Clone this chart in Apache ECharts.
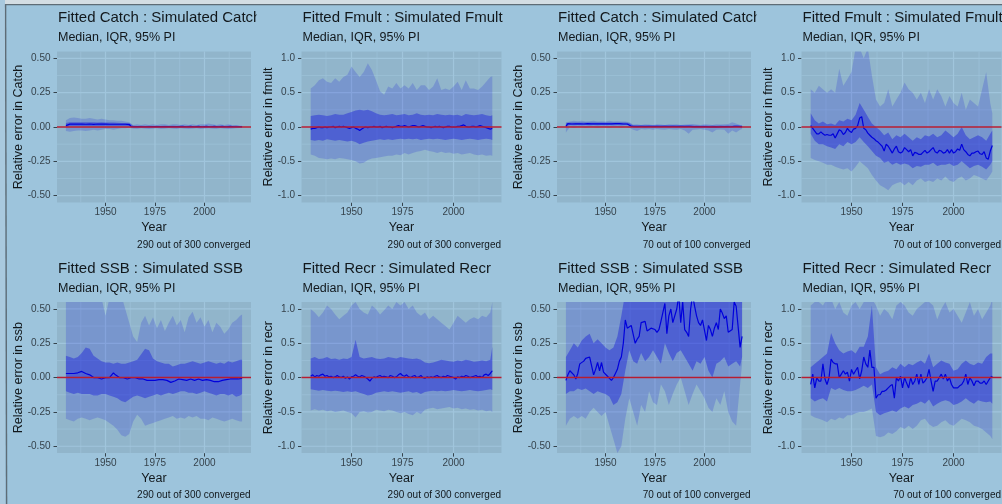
<!DOCTYPE html>
<html><head><meta charset="utf-8">
<script src="https://cdn.jsdelivr.net/npm/echarts@6/dist/echarts.min.js"></script>
<style>html,body{margin:0;padding:0;background:#9dc4dc;}#c{width:1002px;height:504px;}</style>
</head><body><div id="c"></div><script>
// ---------- data ----------
const yearsAnnual = [1930,1931,1932,1933,1934,1935,1936,1937,1938,1939,
1940,1941,1942,1943,1944,1945,1946,1947,1948,1949,
1950,1951,1952,1953,1954,1955,1956,1957,1958,1959,
1960,1961,1962,1963,1964,1965,1966,1967,1968,1969,
1970,1971,1972,1973,1974,1975,1976,1977,1978,1979,
1980,1981,1982,1983,1984,1985,1986,1987,1988,1989,
1990,1991,1992,1993,1994,1995,1996,1997,1998,1999,
2000,2001,2002,2003,2004,2005,2006,2007,2008,2009,
2010,2011,2012,2013,2014,2015,2016,2017,2018,2019];
const yearsBand = [1930,1932,1934,1936,1938,1940,1942,1944,1946,1948,1950,1952,1954,1956,1958,1960,1962,
1964,1966,1968,1970,1972,1974,1976,1978,1980,1982,1984,1986,1988,1990,1992,1994,1996,1998,2000,2002,2004,2006,2008,2010,2012,2014,2016,2018,2019];

const xTicks = [1950, 1975, 2000];
const xMinor = [1937.5, 1962.5, 1987.5, 2012.5];
const yTicksHalf = [-0.5, -0.25, 0, 0.25, 0.5];
const yMinorHalf = [-0.375, -0.125, 0.125, 0.375];
const yTicksOne = [-1, -0.5, 0, 0.5, 1];
const yMinorOne = [-0.75, -0.25, 0.25, 0.75];
const zeroLine = [0];

// Catch, 290 of 300
const catch290Med = [0.010,0.022,0.021,0.020,0.022,0.023,0.021,0.020,0.022,0.021,
0.020,0.021,0.022,0.020,0.019,0.021,0.022,0.020,0.021,0.020,
0.022,0.021,0.020,0.019,0.020,0.021,0.020,0.019,0.020,0.021,
0.020,0.020,0.018,0.003,0.002,0.003,0.002,0.003,0.004,0.002,
0.003,0.002,0.004,0.003,0.002,0.003,0.004,0.003,0.002,0.003,
0.004,0.003,0.002,0.003,0.004,0.003,0.002,0.003,0.003,0.004,
0.003,0.002,0.003,0.004,0.003,0.002,0.003,0.004,0.003,0.002,
0.003,0.004,0.003,0.002,0.003,0.004,0.003,0.002,0.003,0.004,
0.003,0.002,0.003,0.004,0.003,0.002,0.003,0.002,0.002,0.002];
const catch290Hi95 = [0.050,0.065,0.070,0.065,0.060,0.060,0.065,0.060,0.055,0.060,0.055,0.050,0.050,0.045,0.045,0.040,0.035,
0.015,0.020,0.015,0.020,0.015,0.020,0.015,0.020,0.020,0.015,0.020,0.020,0.015,0.020,0.015,0.020,0.015,0.020,0.020,0.025,0.020,0.015,0.020,0.015,0.020,0.015,0.015,0.010,0.010];
const catch290Hi50 = [0.030,0.035,0.035,0.035,0.035,0.034,0.035,0.034,0.033,0.034,0.033,0.032,0.032,0.031,0.030,0.030,0.030,
0.009,0.008,0.009,0.008,0.009,0.008,0.009,0.008,0.009,0.008,0.009,0.008,0.009,0.008,0.009,0.008,0.009,0.008,0.009,0.008,0.009,0.008,0.009,0.008,0.009,0.008,0.009,0.008,0.008];
const catch290Lo50 = [0.000,0.008,0.008,0.008,0.007,0.008,0.008,0.007,0.008,0.008,0.007,0.008,0.008,0.007,0.008,0.008,0.007,
-0.004,-0.003,-0.004,-0.003,-0.004,-0.003,-0.004,-0.003,-0.004,-0.003,-0.004,-0.003,-0.004,-0.003,-0.004,-0.003,-0.004,-0.003,-0.004,-0.003,-0.004,-0.003,-0.004,-0.003,-0.004,-0.003,-0.004,-0.003,-0.003];
const catch290Lo95 = [-0.030,-0.035,-0.030,-0.025,-0.025,-0.030,-0.025,-0.020,-0.025,-0.020,-0.015,-0.015,-0.020,-0.015,-0.010,-0.010,-0.005,
-0.012,-0.015,-0.010,-0.012,-0.015,-0.012,-0.010,-0.015,-0.012,-0.010,-0.012,-0.015,-0.010,-0.012,-0.015,-0.012,-0.010,-0.015,-0.012,-0.010,-0.012,-0.015,-0.010,-0.012,-0.015,-0.012,-0.010,-0.008,-0.008];

// Fmult, 290 of 300
const fmult290Med = [-0.03,-0.02,-0.02,-0.01,0.00,-0.01,-0.01,0.00,-0.01,0.00,
0.00,0.01,-0.01,0.00,0.01,0.00,0.01,0.00,-0.01,-0.02,
-0.01,0.00,-0.02,-0.03,-0.05,-0.03,-0.01,0.00,-0.01,0.00,
0.00,0.01,0.00,0.00,0.01,-0.01,0.00,0.01,0.00,0.00,
-0.01,0.00,0.01,0.02,0.01,0.01,0.02,0.01,0.00,0.01,
0.02,0.02,0.01,0.00,0.01,0.02,0.01,0.00,0.00,-0.01,
0.00,0.01,0.00,0.01,0.00,-0.01,0.00,0.01,0.01,0.00,
0.00,0.00,0.01,0.01,0.02,0.03,0.01,0.00,0.00,0.01,
0.01,0.00,0.01,0.02,0.01,0.00,-0.01,-0.02,-0.03,-0.02];
const fmult290Hi95 = [0.56,0.61,0.68,0.71,0.66,0.64,0.71,0.66,0.73,0.76,0.88,0.80,0.73,0.80,0.93,0.83,0.68,
0.52,0.47,0.59,0.56,0.64,0.56,0.61,0.56,0.64,0.54,0.61,0.61,0.54,0.59,0.71,0.54,0.56,0.54,0.59,0.66,0.54,0.68,0.56,0.56,0.54,0.59,0.66,0.73,0.74];
const fmult290Hi50 = [0.16,0.17,0.18,0.17,0.16,0.17,0.19,0.18,0.18,0.20,0.22,0.24,0.25,0.24,0.25,0.23,0.20,
0.18,0.17,0.18,0.19,0.17,0.18,0.19,0.17,0.18,0.20,0.18,0.17,0.18,0.17,0.19,0.18,0.17,0.18,0.17,0.18,0.16,0.19,0.18,0.17,0.18,0.19,0.17,0.16,0.17];
const fmult290Lo50 = [-0.19,-0.20,-0.19,-0.20,-0.18,-0.19,-0.20,-0.19,-0.20,-0.21,-0.20,-0.22,-0.25,-0.23,-0.21,-0.20,-0.19,
-0.18,-0.19,-0.18,-0.19,-0.18,-0.17,-0.18,-0.17,-0.18,-0.17,-0.19,-0.18,-0.17,-0.18,-0.17,-0.18,-0.19,-0.18,-0.17,-0.18,-0.19,-0.18,-0.17,-0.18,-0.19,-0.18,-0.17,-0.18,-0.19];
const fmult290Lo95 = [-0.40,-0.42,-0.45,-0.46,-0.47,-0.46,-0.47,-0.45,-0.46,-0.47,-0.48,-0.50,-0.53,-0.52,-0.48,-0.46,-0.45,
-0.44,-0.43,-0.42,-0.42,-0.40,-0.41,-0.38,-0.40,-0.38,-0.36,-0.35,-0.33,-0.35,-0.36,-0.38,-0.36,-0.38,-0.37,-0.39,-0.38,-0.40,-0.39,-0.38,-0.40,-0.41,-0.40,-0.42,-0.41,-0.42];

// Catch, 70 of 100
const catch70Med = [0.005,0.024,0.023,0.022,0.024,0.023,0.022,0.023,0.024,0.022,
0.023,0.024,0.022,0.023,0.024,0.023,0.022,0.023,0.024,0.023,
0.022,0.023,0.024,0.023,0.022,0.024,0.023,0.024,0.023,0.022,
0.023,0.022,0.021,0.005,0.004,0.005,0.003,0.004,0.005,0.004,
0.003,0.004,0.005,0.004,0.003,0.004,0.005,0.004,0.003,0.004,
0.005,0.004,0.003,0.004,0.005,0.004,0.003,0.004,0.005,0.004,
0.003,0.004,0.005,0.004,0.002,0.003,0.004,0.003,0.002,0.003,
0.002,0.003,0.002,0.001,0.002,0.003,0.002,0.001,0.002,0.003,
0.002,0.003,0.004,0.002,0.003,0.004,0.003,0.004,0.003,0.003];
const catch70Hi95 = [0.035,0.040,0.045,0.042,0.045,0.040,0.042,0.045,0.040,0.042,0.040,0.045,0.040,0.042,0.040,0.040,0.035,
0.018,0.020,0.015,0.020,0.018,0.015,0.020,0.018,0.015,0.020,0.018,0.020,0.015,0.018,0.020,0.022,0.018,0.015,0.020,0.018,0.015,0.020,0.018,0.020,0.022,0.035,0.025,0.015,0.015];
const catch70Hi50 = [0.030,0.032,0.033,0.032,0.033,0.032,0.033,0.032,0.033,0.032,0.033,0.032,0.033,0.032,0.033,0.032,0.030,
0.011,0.010,0.011,0.010,0.011,0.010,0.011,0.010,0.011,0.010,0.011,0.010,0.011,0.010,0.011,0.010,0.011,0.010,0.011,0.010,0.011,0.010,0.011,0.010,0.011,0.010,0.011,0.010,0.010];
const catch70Lo50 = [0.004,0.014,0.013,0.014,0.013,0.014,0.013,0.014,0.013,0.014,0.013,0.014,0.013,0.014,0.013,0.014,0.012,
-0.004,-0.005,-0.004,-0.005,-0.004,-0.005,-0.004,-0.005,-0.004,-0.005,-0.004,-0.005,-0.004,-0.005,-0.004,-0.005,-0.004,-0.005,-0.004,-0.005,-0.004,-0.005,-0.004,-0.005,-0.004,-0.005,-0.004,-0.005,-0.004];
const catch70Lo95 = [-0.040,0.000,-0.005,0.000,0.000,-0.005,0.000,0.000,-0.005,0.000,0.000,-0.005,0.000,0.000,-0.005,0.000,-0.005,
-0.020,-0.030,-0.015,-0.018,-0.015,-0.020,-0.015,-0.018,-0.020,-0.015,-0.018,-0.020,-0.015,-0.025,-0.050,-0.020,-0.018,-0.015,-0.020,-0.025,-0.040,-0.020,-0.018,-0.020,-0.050,-0.025,-0.040,-0.020,-0.015];

// Fmult, 70 of 100
const fmult70Med = [0.02,-0.02,-0.06,-0.10,-0.10,-0.07,-0.10,-0.12,-0.11,-0.12,
-0.12,-0.10,-0.16,-0.10,-0.04,-0.06,-0.11,-0.08,-0.02,-0.06,
-0.08,-0.03,-0.02,0.02,0.13,0.15,-0.02,-0.04,-0.09,-0.12,
-0.15,-0.17,-0.20,-0.22,-0.25,-0.28,-0.35,-0.25,-0.28,-0.33,
-0.38,-0.32,-0.28,-0.36,-0.38,-0.36,-0.30,-0.33,-0.36,-0.33,
-0.42,-0.37,-0.38,-0.40,-0.40,-0.37,-0.34,-0.38,-0.36,-0.33,
-0.30,-0.36,-0.38,-0.34,-0.35,-0.38,-0.37,-0.33,-0.38,-0.33,
-0.38,-0.36,-0.32,-0.34,-0.25,-0.33,-0.36,-0.40,-0.42,-0.38,
-0.38,-0.36,-0.35,-0.39,-0.40,-0.36,-0.45,-0.47,-0.35,-0.27];
const fmult70Hi95 = [0.55,0.50,0.60,0.55,0.50,0.55,0.50,0.85,0.60,0.70,0.80,1.15,1.15,1.00,1.15,0.75,0.40,
0.30,0.35,0.55,0.30,0.40,0.50,0.65,0.55,0.50,0.40,0.50,0.35,0.55,0.40,0.55,0.45,0.30,0.45,0.35,0.30,0.50,0.25,0.40,0.35,0.30,0.55,0.80,0.35,0.20];
const fmult70Hi50 = [0.20,0.10,0.05,0.08,0.04,0.05,0.03,0.10,0.08,0.12,0.10,0.18,0.35,0.25,0.15,0.05,0.00,
-0.05,-0.12,-0.08,-0.18,-0.12,-0.15,-0.10,-0.15,-0.20,-0.15,-0.18,-0.12,-0.14,-0.10,-0.15,-0.12,-0.05,-0.10,-0.15,-0.10,0.00,-0.12,-0.18,-0.15,-0.12,-0.15,-0.20,-0.10,-0.05];
const fmult70Lo50 = [-0.10,-0.20,-0.25,-0.25,-0.28,-0.30,-0.32,-0.25,-0.28,-0.22,-0.25,-0.22,-0.15,-0.22,-0.28,-0.35,-0.42,
-0.45,-0.52,-0.50,-0.55,-0.52,-0.55,-0.53,-0.55,-0.60,-0.57,-0.58,-0.55,-0.55,-0.52,-0.57,-0.55,-0.55,-0.53,-0.57,-0.55,-0.50,-0.55,-0.60,-0.57,-0.55,-0.58,-0.62,-0.55,-0.50];
const fmult70Lo95 = [-0.45,-0.48,-0.50,-0.52,-0.55,-0.55,-0.58,-0.60,-0.62,-0.60,-0.65,-0.58,-0.50,-0.55,-0.60,-0.70,-0.78,
-0.85,-0.88,-0.92,-0.85,-0.82,-0.80,-0.85,-0.80,-0.85,-0.78,-0.75,-0.80,-0.78,-0.80,-0.75,-0.78,-0.72,-0.78,-0.80,-0.75,-0.72,-0.78,-0.75,-0.70,-0.72,-0.75,-0.78,-0.70,-0.65];

// SSB, 290 of 300
const ssb290Med = [0.03,0.04,0.03,0.04,0.03,0.03,0.035,0.04,0.045,0.04,
0.03,0.025,0.02,0.015,0.0,-0.01,0.0,0.0,-0.01,0.0,
0.0,-0.005,0.0,0.01,0.035,0.02,0.01,0.0,-0.01,0.0,
0.0,-0.01,-0.01,0.0,-0.005,0.0,-0.01,-0.01,0.0,-0.01,
-0.01,-0.02,-0.015,-0.02,-0.02,-0.02,-0.02,-0.015,-0.01,-0.015,
-0.01,-0.02,-0.03,-0.035,-0.035,-0.025,-0.02,-0.01,-0.01,-0.015,
-0.015,-0.02,-0.015,-0.01,-0.01,-0.02,-0.015,-0.01,-0.015,-0.02,
-0.02,-0.015,-0.015,-0.02,-0.025,-0.03,-0.035,-0.03,-0.025,-0.02,
-0.02,-0.015,-0.015,-0.01,-0.01,-0.01,-0.005,-0.01,-0.005,-0.005];
const ssb290Hi95 = [0.60,0.60,0.60,0.60,0.60,0.60,0.60,0.60,0.60,0.58,0.45,0.58,0.60,0.60,0.60,0.50,0.40,
0.30,0.26,0.40,0.45,0.38,0.44,0.36,0.42,0.34,0.40,0.45,0.38,0.42,0.33,0.44,0.48,0.40,0.44,0.37,0.42,0.33,0.40,0.37,0.32,0.35,0.40,0.42,0.45,0.46];
const ssb290Hi50 = [0.16,0.15,0.14,0.15,0.18,0.22,0.21,0.16,0.14,0.12,0.11,0.11,0.10,0.11,0.10,0.10,0.11,
0.12,0.13,0.17,0.21,0.20,0.14,0.12,0.11,0.10,0.10,0.08,0.09,0.10,0.10,0.11,0.12,0.11,0.10,0.11,0.12,0.11,0.10,0.11,0.10,0.12,0.11,0.12,0.13,0.13];
const ssb290Lo50 = [-0.10,-0.11,-0.12,-0.11,-0.12,-0.12,-0.12,-0.13,-0.13,-0.12,-0.12,-0.13,-0.14,-0.15,-0.17,-0.18,-0.16,
-0.14,-0.13,-0.14,-0.15,-0.14,-0.13,-0.12,-0.13,-0.12,-0.11,-0.12,-0.11,-0.10,-0.10,-0.11,-0.11,-0.12,-0.11,-0.10,-0.11,-0.12,-0.13,-0.12,-0.12,-0.13,-0.12,-0.14,-0.13,-0.12];
const ssb290Lo95 = [-0.30,-0.31,-0.32,-0.30,-0.29,-0.30,-0.31,-0.30,-0.29,-0.30,-0.31,-0.33,-0.35,-0.38,-0.42,-0.43,-0.41,
-0.32,-0.27,-0.30,-0.35,-0.34,-0.33,-0.32,-0.31,-0.30,-0.29,-0.28,-0.30,-0.29,-0.30,-0.28,-0.29,-0.28,-0.30,-0.30,-0.31,-0.29,-0.30,-0.31,-0.32,-0.31,-0.30,-0.31,-0.32,-0.32];

// Recr, 290 of 300
const recr290Med = [0.02,0.04,0.01,0.03,0.02,0.04,0.05,0.02,0.03,0.01,
0.02,0.00,0.01,0.03,0.01,0.00,0.02,-0.01,0.01,-0.02,
0.01,0.02,0.04,0.02,0.01,0.03,0.02,0.00,-0.02,-0.05,
-0.01,0.01,0.00,0.02,0.03,0.01,0.02,0.01,0.00,0.03,
0.02,0.00,0.01,0.04,0.06,0.03,0.02,0.04,0.01,0.00,
0.02,0.03,0.00,0.01,0.03,0.00,-0.01,0.01,0.00,0.01,
0.00,0.02,0.03,0.01,0.00,0.02,0.01,0.03,0.02,0.01,
0.00,-0.02,0.01,0.00,0.02,0.01,0.03,0.02,0.00,0.01,
0.02,0.03,0.01,0.02,0.00,0.04,0.05,0.03,0.06,0.10];
const recr290Hi95 = [1.00,0.95,0.88,0.95,1.05,1.00,0.92,0.85,0.90,0.95,1.05,1.10,1.00,0.95,0.92,1.05,1.00,
0.92,0.98,1.05,1.00,1.10,1.05,1.10,1.00,1.05,0.95,0.90,0.95,0.85,0.90,0.85,0.80,0.75,0.70,0.80,0.90,0.85,0.80,0.85,0.88,0.85,0.90,0.88,0.95,1.10];
const recr290Hi50 = [0.28,0.30,0.27,0.28,0.30,0.27,0.28,0.26,0.28,0.27,0.30,0.55,0.30,0.28,0.29,0.30,0.28,
0.27,0.28,0.30,0.29,0.28,0.30,0.29,0.28,0.27,0.28,0.26,0.22,0.21,0.22,0.24,0.26,0.25,0.24,0.23,0.25,0.24,0.26,0.25,0.23,0.24,0.25,0.24,0.26,0.45];
const recr290Lo50 = [-0.17,-0.18,-0.19,-0.18,-0.19,-0.20,-0.19,-0.20,-0.21,-0.20,-0.21,-0.20,-0.22,-0.24,-0.26,-0.25,-0.22,
-0.21,-0.20,-0.21,-0.20,-0.21,-0.22,-0.21,-0.20,-0.22,-0.21,-0.24,-0.21,-0.20,-0.19,-0.20,-0.19,-0.20,-0.19,-0.18,-0.19,-0.20,-0.19,-0.18,-0.19,-0.20,-0.19,-0.18,-0.17,-0.18];
const recr290Lo95 = [-0.48,-0.46,-0.48,-0.47,-0.49,-0.48,-0.50,-0.49,-0.48,-0.50,-0.52,-0.58,-0.50,-0.49,-0.51,-0.50,-0.47,
-0.48,-0.49,-0.47,-0.48,-0.50,-0.52,-0.50,-0.53,-0.55,-0.50,-0.53,-0.47,-0.45,-0.44,-0.46,-0.45,-0.44,-0.43,-0.45,-0.44,-0.46,-0.45,-0.47,-0.46,-0.48,-0.47,-0.49,-0.48,-0.50];

// SSB, 70 of 100
const ssb70Med = [-0.02,0.02,0.05,0.04,0.02,-0.01,0.03,0.10,0.11,0.12,
0.14,0.13,0.15,0.15,0.02,0.06,0.11,0.05,0.11,0.04,
0.03,0.01,0.02,-0.02,0.00,0.03,0.06,0.12,0.15,0.25,
0.42,0.36,0.36,0.38,0.39,0.25,0.28,0.30,0.40,0.39,
0.41,0.34,0.35,0.36,0.37,0.35,0.33,0.35,0.41,0.40,
0.54,0.32,0.45,0.50,0.40,0.40,0.50,0.60,0.40,0.55,
0.35,0.33,0.30,0.50,0.60,0.52,0.45,0.40,0.38,0.42,
0.42,0.27,0.38,0.35,0.30,0.36,0.40,0.35,0.50,0.47,
0.43,0.45,0.33,0.32,0.35,0.55,0.52,0.52,0.22,0.30];
const ssb70Hi95 = [0.75,0.75,0.75,0.75,0.75,0.75,0.75,0.75,0.75,0.75,0.75,0.75,0.75,0.75,0.75,0.75,0.75,
0.75,0.75,0.75,0.75,0.75,0.75,0.75,0.75,0.75,0.75,0.75,0.75,0.75,0.75,0.75,0.75,0.75,0.75,0.75,0.75,0.75,0.75,0.75,0.75,0.75,0.75,0.75,0.75,0.75];
const ssb70Hi50 = [0.15,0.20,0.25,0.22,0.27,0.30,0.32,0.25,0.28,0.25,0.22,0.20,0.22,0.30,0.45,0.62,0.65,
0.70,0.70,0.70,0.70,0.70,0.70,0.70,0.70,0.70,0.70,0.70,0.70,0.70,0.70,0.70,0.70,0.70,0.70,0.70,0.70,0.70,0.70,0.70,0.70,0.70,0.70,0.70,0.70,0.70];
const ssb70Lo50 = [-0.12,-0.10,-0.10,-0.08,-0.09,-0.08,-0.10,-0.12,-0.10,-0.11,-0.12,-0.14,-0.20,-0.18,-0.12,0.05,0.20,
0.12,0.10,0.18,0.12,0.15,0.20,0.15,0.10,0.25,0.18,0.12,0.18,0.20,0.15,0.10,0.05,0.12,0.10,0.15,0.05,0.00,0.10,0.12,0.15,0.08,0.10,0.12,0.08,0.15];
const ssb70Lo95 = [-0.35,-0.30,-0.28,-0.30,-0.28,-0.30,-0.25,-0.22,-0.25,-0.28,-0.25,-0.35,-0.45,-0.55,-0.50,-0.30,-0.15,
-0.25,-0.35,-0.20,-0.25,-0.10,-0.18,-0.20,-0.05,-0.10,-0.20,-0.12,-0.05,0.00,-0.10,-0.20,-0.12,-0.05,-0.10,-0.15,-0.22,-0.25,-0.15,-0.20,-0.10,-0.25,-0.32,-0.35,-0.05,0.10];

// Recr, 70 of 100
const recr70Med = [-0.10,0.05,-0.15,0.00,-0.05,-0.05,0.20,-0.02,-0.10,0.00,
0.27,0.22,0.20,0.20,0.00,0.05,0.10,0.05,0.08,-0.05,
0.12,0.05,0.10,0.15,-0.02,0.10,0.30,0.20,0.15,0.40,
0.15,0.15,-0.30,-0.25,-0.25,-0.20,-0.20,-0.18,-0.15,-0.12,
-0.10,-0.30,0.00,-0.05,0.02,-0.15,0.00,-0.08,-0.15,0.00,
-0.10,-0.05,0.05,-0.10,0.05,-0.08,-0.05,0.00,0.12,-0.05,
-0.20,-0.05,-0.05,0.00,0.05,-0.02,0.05,-0.05,0.00,-0.10,
-0.15,-0.15,-0.15,-0.12,-0.10,-0.05,0.05,-0.10,0.00,-0.05,
-0.12,-0.05,-0.05,-0.08,-0.08,-0.05,-0.10,-0.05,0.00,0.02];
const recr70Hi95 = [1.05,1.10,1.10,1.05,1.15,1.15,1.00,1.10,0.95,0.90,1.05,1.10,1.00,1.10,1.15,1.15,1.05,
0.90,1.00,0.95,0.85,1.05,1.10,1.05,0.95,0.90,1.00,1.05,1.10,1.10,1.05,0.85,1.00,1.10,0.95,1.00,0.90,0.80,0.95,1.10,0.90,1.00,0.85,0.95,1.05,1.15];
const recr70Hi50 = [0.15,0.20,0.25,0.30,0.35,0.65,0.50,0.40,0.35,0.38,0.40,0.35,0.45,0.45,0.60,1.05,0.15,
0.05,0.08,0.10,0.15,0.12,0.20,0.15,0.20,0.18,0.22,0.25,0.20,0.35,0.15,0.20,0.25,0.22,0.20,0.10,0.12,0.20,0.25,0.20,0.18,0.22,0.20,0.30,0.35,0.35];
const recr70Lo50 = [-0.30,-0.35,-0.32,-0.30,-0.35,-0.15,-0.18,-0.15,-0.18,-0.20,-0.20,-0.18,-0.15,-0.12,-0.15,-0.10,-0.50,
-0.55,-0.52,-0.50,-0.48,-0.50,-0.45,-0.42,-0.45,-0.40,-0.38,-0.35,-0.38,-0.32,-0.42,-0.38,-0.35,-0.33,-0.35,-0.40,-0.38,-0.35,-0.30,-0.35,-0.38,-0.33,-0.35,-0.36,-0.35,-0.38];
const recr70Lo95 = [-0.55,-0.58,-0.60,-0.62,-0.65,-0.60,-0.62,-0.58,-0.60,-0.55,-0.55,-0.52,-0.50,-0.50,-0.48,-0.45,-0.85,
-0.87,-0.85,-0.80,-0.82,-0.78,-0.72,-0.75,-0.70,-0.75,-0.70,-0.62,-0.60,-0.68,-0.72,-0.70,-0.65,-0.62,-0.68,-0.70,-0.65,-0.60,-0.62,-0.65,-0.70,-0.72,-0.75,-0.80,-0.85,-0.90];

const panels = [
  {row:0,col:0,title:'Fitted Catch : Simulated Catch',yName:'Relative error in Catch',caption:'290 out of 300 converged',scale:'half',med:catch290Med,hi95:catch290Hi95,hi50:catch290Hi50,lo50:catch290Lo50,lo95:catch290Lo95},
  {row:0,col:1,title:'Fitted Fmult : Simulated Fmult',yName:'Relative error in fmult',caption:'290 out of 300 converged',scale:'one',med:fmult290Med,hi95:fmult290Hi95,hi50:fmult290Hi50,lo50:fmult290Lo50,lo95:fmult290Lo95},
  {row:0,col:2,title:'Fitted Catch : Simulated Catch',yName:'Relative error in Catch',caption:'70 out of 100 converged',scale:'half',med:catch70Med,hi95:catch70Hi95,hi50:catch70Hi50,lo50:catch70Lo50,lo95:catch70Lo95},
  {row:0,col:3,title:'Fitted Fmult : Simulated Fmult',yName:'Relative error in fmult',caption:'70 out of 100 converged',scale:'one',med:fmult70Med,hi95:fmult70Hi95,hi50:fmult70Hi50,lo50:fmult70Lo50,lo95:fmult70Lo95},
  {row:1,col:0,title:'Fitted SSB : Simulated SSB',yName:'Relative error in ssb',caption:'290 out of 300 converged',scale:'half',med:ssb290Med,hi95:ssb290Hi95,hi50:ssb290Hi50,lo50:ssb290Lo50,lo95:ssb290Lo95},
  {row:1,col:1,title:'Fitted Recr : Simulated Recr',yName:'Relative error in recr',caption:'290 out of 300 converged',scale:'one',med:recr290Med,hi95:recr290Hi95,hi50:recr290Hi50,lo50:recr290Lo50,lo95:recr290Lo95},
  {row:1,col:2,title:'Fitted SSB : Simulated SSB',yName:'Relative error in ssb',caption:'70 out of 100 converged',scale:'half',med:ssb70Med,hi95:ssb70Hi95,hi50:ssb70Hi50,lo50:ssb70Lo50,lo95:ssb70Lo95},
  {row:1,col:3,title:'Fitted Recr : Simulated Recr',yName:'Relative error in recr',caption:'70 out of 100 converged',scale:'one',med:recr70Med,hi95:recr70Hi95,hi50:recr70Hi50,lo50:recr70Lo50,lo95:recr70Lo95}
];
const subtitleText = 'Median, IQR, 95% PI';
const xName = 'Year';

// ---------- layout & style ----------
const FONT = '"Liberation Sans", Arial, Helvetica, sans-serif';
const pageBg = '#9dc4dc', panelBg = '#91b5cb', gridCol = '#a0c5dc';
const piFill = 'rgba(0,0,220,0.17)', iqrFill = 'rgba(0,0,220,0.35)';
const medCol = '#0000dc', zeroCol = '#b81c30';
const txtCol = '#12181c', tickTxt = '#36434c', tickCol = '#36434c';
const colLeft = [0, 250, 500, 750];
const gridLeft = [57, 301.5, 557, 801.5];
const gridWidth = [194, 200, 194, 200];
const rowTop = [0, 250.6];
const gridTop0 = 51.5, gridH = 151;
const xMin = 1925.5, xMax = 2023.5;

const grids = [], xAxes = [], yAxes = [], series = [], graphics = [];

panels.forEach((p, i) => {
  const gl = gridLeft[p.col], gw = gridWidth[p.col], rt = rowTop[p.row], gt = rt + gridTop0;
  const half = p.scale === 'half';
  const yT = half ? yTicksHalf : yTicksOne, yM = half ? yMinorHalf : yMinorOne, lim = half ? 0.55 : 1.1;
  grids.push({left: gl, top: gt, width: gw, height: gridH, show: true, backgroundColor: panelBg, borderWidth: 0});
  xAxes.push({gridIndex: i, type: 'value', min: xMin, max: xMax,
    axisLine: {show: false, onZero: false}, splitLine: {show: false},
    axisTick: {show: true, length: 3.5, customValues: xTicks, lineStyle: {color: tickCol, width: 1}},
    axisLabel: {customValues: xTicks, color: tickTxt, fontSize: 10, fontFamily: FONT, margin: 5, formatter: v => String(v)}});
  yAxes.push({gridIndex: i, type: 'value', min: -lim, max: lim,
    axisLine: {show: false, onZero: false}, splitLine: {show: false},
    axisTick: {show: true, length: 3.5, customValues: yT, lineStyle: {color: tickCol, width: 1}},
    axisLabel: {customValues: yT, color: tickTxt, fontSize: 10, fontFamily: FONT, margin: 6.5, formatter: v => v.toFixed(half ? 2 : 1)}});
  // grid lines (major + minor), drawn through the axis scales
  series.push({type: 'custom', xAxisIndex: i, yAxisIndex: i, z: 1, silent: true, data: [[xTicks[0], 0]],
    renderItem: (params, api) => {
      const cs = params.coordSys, ch = [];
      const vl = (v, w) => { const px = api.coord([v, 0])[0]; ch.push({type: 'line', shape: {x1: px, y1: cs.y, x2: px, y2: cs.y + cs.height}, style: {stroke: gridCol, lineWidth: w}}); };
      const hl = (v, w) => { const py = api.coord([xTicks[0], v])[1]; ch.push({type: 'line', shape: {x1: cs.x, y1: py, x2: cs.x + cs.width, y2: py}, style: {stroke: gridCol, lineWidth: w}}); };
      xMinor.forEach(v => vl(v, 0.6)); yM.forEach(v => hl(v, 0.6));
      xTicks.forEach(v => vl(v, 1.2)); yT.forEach(v => hl(v, 1.2));
      return {type: 'group', children: ch};
    }});
  const band = (lo, hi, fill, z) => ({type: 'custom', xAxisIndex: i, yAxisIndex: i, z: z, clip: true, silent: true,
    data: yearsBand.map((y, k) => [y, lo[k], hi[k]]), encode: {x: 0, y: [1, 2]},
    renderItem: (params, api) => {
      if (params.dataIndex !== 0) return null;
      const pts = [];
      for (let k = 0; k < yearsBand.length; k++) pts.push(api.coord([yearsBand[k], hi[k]]));
      for (let k = yearsBand.length - 1; k >= 0; k--) pts.push(api.coord([yearsBand[k], lo[k]]));
      return {type: 'polygon', shape: {points: pts}, style: {fill: fill}};
    }});
  series.push(band(p.lo95, p.hi95, piFill, 2));
  series.push(band(p.lo50, p.hi50, iqrFill, 3));
  series.push({type: 'line', xAxisIndex: i, yAxisIndex: i, z: 4, silent: true, symbol: 'none', showSymbol: false,
    data: yearsAnnual.map((y, k) => [y, p.med[k]]), lineStyle: {color: medCol, width: 1.2}});
  // red reference line at zero
  series.push({type: 'custom', xAxisIndex: i, yAxisIndex: i, z: 5, silent: true, data: zeroLine.map(v => [xTicks[0], v]),
    renderItem: (params, api) => {
      const cs = params.coordSys, py = api.coord([api.value(0), api.value(1)])[1];
      return {type: 'line', shape: {x1: cs.x, y1: py, x2: cs.x + cs.width, y2: py}, style: {stroke: zeroCol, lineWidth: 1.5}};
    }});
  // texts
  graphics.push({type: 'text', z: 10, x: gl + 1, y: rt + 18.3, style: {text: p.title, font: '15px ' + FONT, fill: txtCol, align: 'left', verticalAlign: 'middle', textAlign: 'left', textVerticalAlign: 'middle'}});
  graphics.push({type: 'text', z: 10, x: gl + 1, y: rt + 37.5, style: {text: subtitleText, font: '12.5px ' + FONT, fill: txtCol, align: 'left', verticalAlign: 'middle', textAlign: 'left', textVerticalAlign: 'middle'}});
  graphics.push({type: 'text', z: 10, x: gl + gw / 2, y: rt + 228, style: {text: xName, font: '12.5px ' + FONT, fill: txtCol, align: 'center', verticalAlign: 'middle', textAlign: 'center', textVerticalAlign: 'middle'}});
  graphics.push({type: 'text', z: 10, x: gl + gw - 0.5, y: rt + 245, style: {text: p.caption, font: '10px ' + FONT, fill: txtCol, align: 'right', verticalAlign: 'middle', textAlign: 'right', textVerticalAlign: 'middle'}});
  graphics.push({type: 'text', z: 10, x: colLeft[p.col] + 19, y: gt + gridH / 2, rotation: Math.PI / 2, style: {text: p.yName, font: '12.5px ' + FONT, fill: txtCol, align: 'center', verticalAlign: 'middle', textAlign: 'center', textVerticalAlign: 'middle'}});
});
// overflowing titles are cut at the panel edge
graphics.push({type: 'rect', z: 50, shape: {x: 256.5, y: 6, width: 43, height: 42}, style: {fill: pageBg}});
graphics.push({type: 'rect', z: 50, shape: {x: 756.5, y: 6, width: 43, height: 42}, style: {fill: pageBg}});
// window frame
graphics.push({type: 'rect', z: 60, shape: {x: 0, y: 0, width: 1002, height: 4}, style: {fill: '#d3dde3'}});
graphics.push({type: 'rect', z: 60, shape: {x: 0, y: 0, width: 5, height: 504}, style: {fill: '#a9c9de'}});
graphics.push({type: 'line', z: 61, shape: {x1: 5, y1: 4.6, x2: 1002, y2: 4.6}, style: {stroke: '#5e6c76', lineWidth: 1.4}});
graphics.push({type: 'line', z: 61, shape: {x1: 5.6, y1: 4, x2: 6.6, y2: 504}, style: {stroke: '#5e6c76', lineWidth: 1.4}});

const chart = echarts.init(document.getElementById('c'), null, {renderer: 'canvas'});
chart.setOption({
  backgroundColor: pageBg,
  animation: false,
  textStyle: {fontFamily: FONT},
  grid: grids, xAxis: xAxes, yAxis: yAxes, series: series,
  graphic: {elements: graphics}
});
</script></body></html>
